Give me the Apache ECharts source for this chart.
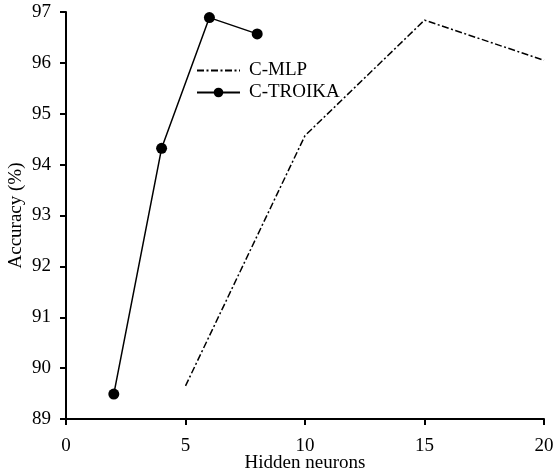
<!DOCTYPE html>
<html>
<head>
<meta charset="utf-8">
<script src="https://cdn.jsdelivr.net/npm/echarts@6/dist/echarts.min.js"></script>
<style>
html,body{margin:0;padding:0;background:#fff;}
#chart{width:553px;height:474px;}
</style>
</head>
<body>
<div id="chart"></div>
<script>
const mlpX = [5, 10, 15, 20];
const mlpY = [89.65, 94.57, 96.84, 96.05];
const troikaX = [2, 4, 6, 8];
const troikaY = [89.49, 94.32, 96.89, 96.57];
const xTicks = [0, 5, 10, 15, 20];
const yTicks = [89, 90, 91, 92, 93, 94, 95, 96, 97];

const font = 'Liberation Serif';
const chart = echarts.init(document.getElementById('chart'), null, {renderer: 'canvas'});
chart.setOption({
  animation: false,
  backgroundColor: '#fff',
  textStyle: {fontFamily: font, color: '#000'},
  grid: {left: 66, right: 9, top: 12, bottom: 55, containLabel: false, outerBoundsMode: 'none'},
  legend: {
    left: 191, top: 56, orient: 'vertical',
    itemWidth: 43, itemHeight: 12, itemGap: 3,
    textStyle: {fontFamily: font, fontSize: 19, color: '#000', padding: [0,0,0,4]},
    data: [{name: 'C-MLP', itemStyle: {opacity: 0}}, {name: 'C-TROIKA'}]
  },
  xAxis: {
    type: 'value', min: xTicks[0], max: xTicks[xTicks.length-1], interval: 5,
    name: 'Hidden neurons', nameLocation: 'middle', nameGap: 35, nameMoveOverlap: false,
    nameTextStyle: {fontFamily: font, fontSize: 19, color: '#000'},
    axisLine: {lineStyle: {color: '#000', width: 2}},
    axisTick: {length: 6, lineStyle: {color: '#000', width: 2}},
    axisLabel: {fontFamily: font, fontSize: 19, color: '#000', margin: 18},
    splitLine: {show: false}
  },
  yAxis: {
    type: 'value', min: yTicks[0], max: yTicks[yTicks.length-1], interval: 1,
    name: 'Accuracy (%)', nameLocation: 'middle', nameGap: 40, nameMoveOverlap: false,
    nameTextStyle: {fontFamily: font, fontSize: 19, color: '#000'},
    axisLine: {show: true, lineStyle: {color: '#000', width: 2}},
    axisTick: {show: true, length: 6, lineStyle: {color: '#000', width: 2}},
    axisLabel: {fontFamily: font, fontSize: 19, color: '#000', margin: 15},
    splitLine: {show: false}
  },
  series: [
    {
      name: 'C-MLP', type: 'line',
      data: mlpX.map((x, i) => [x, mlpY[i]]),
      symbol: 'none',
      lineStyle: {color: '#000', width: 1.5, type: [7, 2.5, 2, 2.5]},
      itemStyle: {color: '#000'}
    },
    {
      name: 'C-TROIKA', type: 'line',
      data: troikaX.map((x, i) => [x, troikaY[i]]),
      symbol: 'circle', symbolSize: 11,
      lineStyle: {color: '#000', width: 1.5},
      itemStyle: {color: '#000'}
    }
  ]
});
</script>
</body>
</html>
